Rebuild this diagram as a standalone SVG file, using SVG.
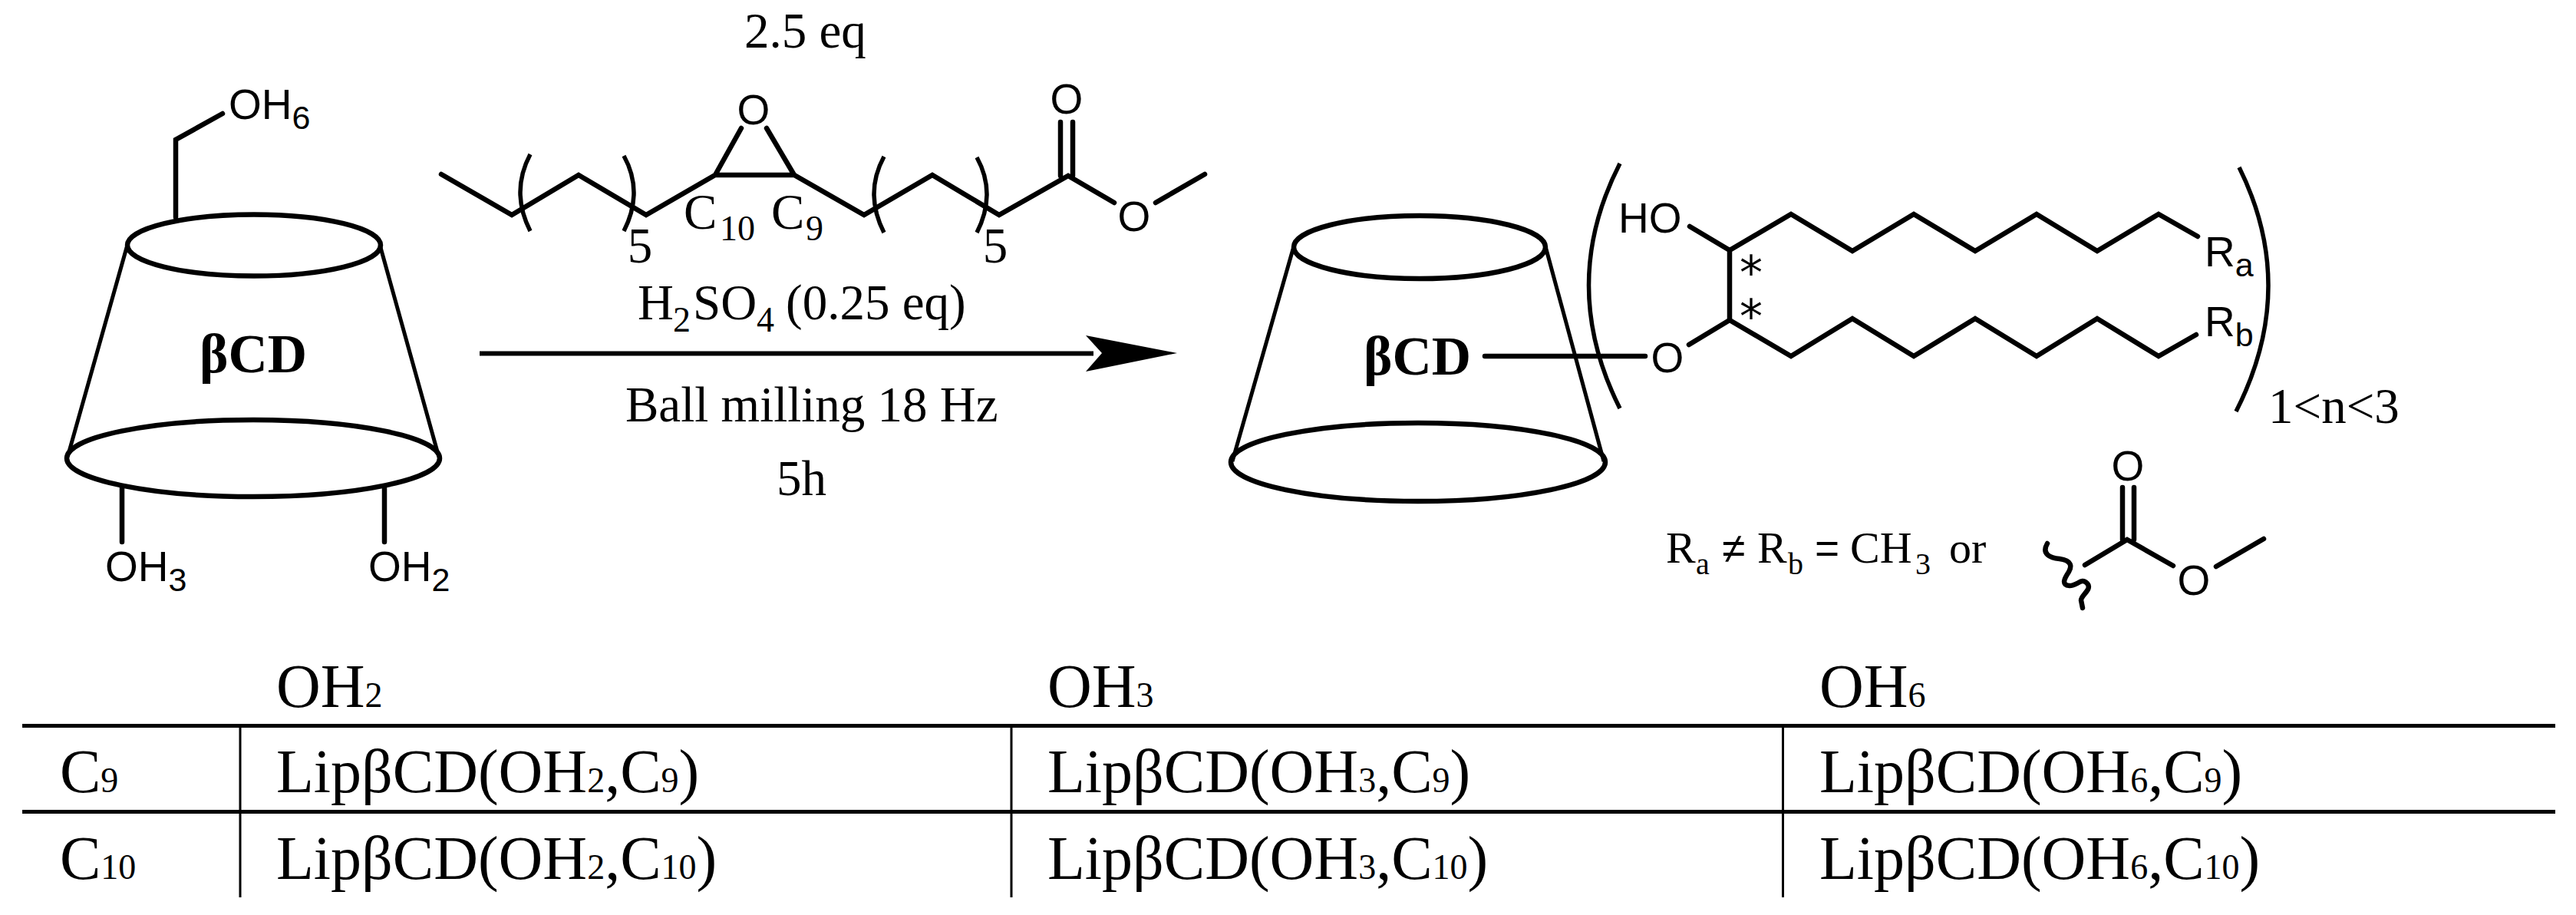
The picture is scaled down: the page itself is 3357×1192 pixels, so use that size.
<svg xmlns="http://www.w3.org/2000/svg" width="3357" height="1192" viewBox="0 0 3357 1192">
<style>
.b{fill:none;stroke:#000;stroke-width:6.500;stroke-linejoin:miter;stroke-linecap:round}
.t{fill:none;stroke:#000;stroke-width:5}
.p{fill:none;stroke:#000;stroke-width:5.500}
.e{fill:none;stroke:#000;stroke-width:6.500}
.s{font-family:"Liberation Sans",Arial,sans-serif;font-size:55px;fill:#000}
.a{font-family:"DejaVu Sans",sans-serif;font-size:60px;fill:#000}
.m{font-family:"Liberation Serif","Times New Roman",serif;font-size:65px;fill:#000}
.g{font-family:"Liberation Serif","Times New Roman",serif;font-size:71px;font-weight:bold;fill:#000}
.c{font-family:"Liberation Serif","Times New Roman",serif;font-size:80px;fill:#000}
.n{font-family:"Liberation Serif","Times New Roman",serif;font-size:58px;fill:#000}
.u{font-size:46px}
.v{font-size:43px}
.w{font-size:46px}
.x{font-size:40px}
</style>
<rect width="3357" height="1192" fill="#fff"/>
<g id="cd-left">
<ellipse class="e" cx="331" cy="319.500" rx="165" ry="40"/>
<ellipse class="e" cx="330" cy="597" rx="243" ry="50"/>
<path class="t" d="M166 319L89 592M495 319L571 592"/>
<path class="b" d="M229 283V182L290 148M159 635V706M501 635V706"/>
<text class="g" x="260" y="485">βCD</text>
<text class="s" x="298" y="155">OH<tspan class="v" dy="13">6</tspan></text>
<text class="s" x="137" y="757">OH<tspan class="v" dy="13">3</tspan></text>
<text class="s" x="480" y="757">OH<tspan class="v" dy="13">2</tspan></text>
</g>
<g id="reagent">
<text class="m" x="970" y="62">2.5 eq</text>
<path class="b" d="M575 227L667 280L754 228L842 280L932 228H1035L1126 280L1215 228L1302 280L1392 229L1452 264M1506 264L1570 227M932 228L966 167M1035 228L999 167M1382 159V229M1398 159V229"/>
<path class="p" d="M691 201Q665 250 691 301M813 203Q839 250 813 301M1152 204Q1126 252 1152 303M1273 205Q1299 252 1273 303"/>
<text class="s" x="982" y="162" text-anchor="middle">O</text>
<text class="s" x="1390" y="148" text-anchor="middle">O</text>
<text class="s" x="1478" y="301" text-anchor="middle">O</text>
<text class="m" x="834" y="342" text-anchor="middle">5</text>
<text class="m" x="1297" y="342" text-anchor="middle">5</text>
<text class="m" x="891" y="298">C<tspan class="w" x="938" dy="15">10</tspan></text>
<text class="m" x="1005" y="298">C<tspan class="w" x="1050" dy="15">9</tspan></text>
<text class="m" x="831" y="416">H<tspan class="w" x="877" dy="16">2</tspan><tspan x="903" dy="-16">SO</tspan><tspan class="w" x="986" dy="16">4</tspan><tspan x="1024" dy="-16">(0.25 eq)</tspan></text>
<text class="m" x="815" y="549">Ball milling 18 Hz</text>
<text class="m" x="1012" y="645">5h</text>
</g>
<g id="connectors">
<path d="M625 460.500H1425" stroke="#000" stroke-width="6" fill="none"/>
<path d="M1534 460L1415 437L1436 460L1415 484Z" fill="#000"/>
</g>
<g id="cd-right">
<ellipse class="e" cx="1850" cy="322" rx="164" ry="41"/>
<ellipse class="e" cx="1848" cy="602" rx="244" ry="51"/>
<path class="t" d="M1686 321L1606 601M2014 321L2090 601"/>
<text class="g" x="1777" y="488">βCD</text>
<path class="b" d="M1935 464H2144"/>
<text class="s" x="2173" y="485" text-anchor="middle">O</text>
<path class="p" d="M2111 213Q2030 371 2111 532M2918 218Q2996 375 2914 536"/>
<text class="s" x="2109" y="303">HO</text>
<path class="b" d="M2202 295L2254 326L2334 279L2414 327L2494 279L2574 327L2654 279L2733 327L2813 279L2864 308M2254 326V417M2201 449L2254 417L2334 464L2414 415L2494 464L2574 415L2654 464L2733 415L2813 464L2862 436"/>
<text class="a" x="2282" y="376" text-anchor="middle">*</text>
<text class="a" x="2282" y="433" text-anchor="middle">*</text>
<text class="s" x="2873" y="347">R<tspan class="v" dy="13">a</tspan></text>
<text class="s" x="2873" y="438">R<tspan class="v" dy="13">b</tspan></text>
<text class="m" x="2956" y="551">1&lt;n&lt;3</text>
</g>
<g id="substituent">
<text class="n" x="2171" y="733">R<tspan class="x" x="2210" dy="15">a</tspan><tspan class="s" x="2244" dy="-15">≠</tspan><tspan x="2290">R</tspan><tspan class="x" x="2330" dy="15">b</tspan><tspan class="s" x="2365" dy="-15">=</tspan><tspan x="2411">CH</tspan><tspan class="x" x="2496" dy="15">3</tspan><tspan x="2540" dy="-15">or</tspan></text>
<path class="b" d="M2668 708C2660 722 2672 727 2684 728C2700 730 2700 738 2696 745C2690 754 2686 762 2697 763C2708 763 2712 752 2720 760C2727 768 2712 775 2712 782L2714 792M2717 736L2772 703L2832 737M2888 738L2950 702M2766 635V703M2781 635V703"/>
<text class="s" x="2773" y="626" text-anchor="middle">O</text>
<text class="s" x="2859" y="775" text-anchor="middle">O</text>
</g>
<g id="table">
<path d="M29 945.500H3330M29 1057.500H3330" stroke="#000" stroke-width="5"/>
<path d="M313 945V1169M1318 945V1169M2323.500 945V1169" stroke="#000" stroke-width="3"/>
<text class="c" x="360" y="921">OH<tspan class="u">2</tspan></text>
<text class="c" x="1365" y="921">OH<tspan class="u">3</tspan></text>
<text class="c" x="2371" y="921">OH<tspan class="u">6</tspan></text>
<text class="c" x="78" y="1032">C<tspan class="u">9</tspan></text>
<text class="c" x="78" y="1145">C<tspan class="u">10</tspan></text>
<text class="c" x="360" y="1032">LipβCD(OH<tspan class="u">2</tspan>,C<tspan class="u">9</tspan>)</text>
<text class="c" x="1365" y="1032">LipβCD(OH<tspan class="u">3</tspan>,C<tspan class="u">9</tspan>)</text>
<text class="c" x="2371" y="1032">LipβCD(OH<tspan class="u">6</tspan>,C<tspan class="u">9</tspan>)</text>
<text class="c" x="360" y="1145">LipβCD(OH<tspan class="u">2</tspan>,C<tspan class="u">10</tspan>)</text>
<text class="c" x="1365" y="1145">LipβCD(OH<tspan class="u">3</tspan>,C<tspan class="u">10</tspan>)</text>
<text class="c" x="2371" y="1145">LipβCD(OH<tspan class="u">6</tspan>,C<tspan class="u">10</tspan>)</text>
</g>
</svg>
